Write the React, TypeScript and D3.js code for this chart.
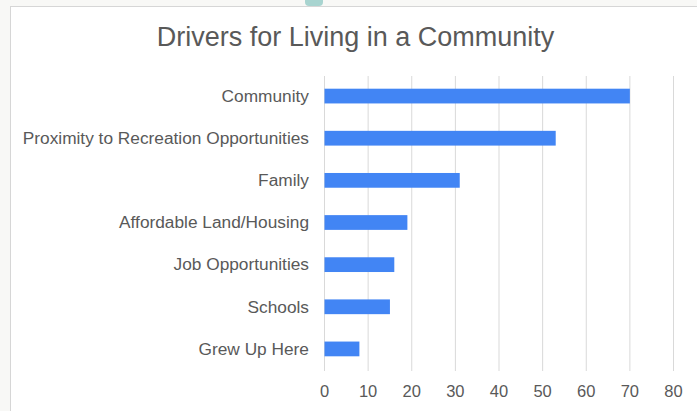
import React from "react";
import * as d3 from "d3";

const categories = [
  "Community",
  "Proximity to Recreation Opportunities",
  "Family",
  "Affordable Land/Housing",
  "Job Opportunities",
  "Schools",
  "Grew Up Here",
];
const values = [70, 53, 31, 19, 16, 15, 8];
const xTicks = [0, 10, 20, 30, 40, 50, 60, 70, 80];
const title = "Drivers for Living in a Community";

const W = 697;
const H = 411;

export default function App() {
  const x = d3.scaleLinear().domain([0, 80]).range([324.5, 673.5]);
  const y = d3.scaleBand<string>().domain(categories).range([75, 370]).paddingInner(0.65).paddingOuter(0.325);
  const font = "'Liberation Sans', Arial, sans-serif";
  return (
    <div style={{ position: "absolute", left: 0, top: 0 }}>
      <svg width={W} height={H} style={{ display: "block" }}>
        <rect x={0} y={0} width={W} height={H} fill="#f8f8f6" />
        <rect x={305} y={-3} width={18} height={9} fill="#a8d4d0" rx={4} />
        <rect x={10.5} y={6.5} width={W} height={H} fill="#ffffff" stroke="#d6d6d6" />
        <text x={355.5} y={46} textAnchor="middle" fontFamily={font} fontSize={27} fill="#595959">
          {title}
        </text>
        {xTicks.map((t) => (
          <g key={t}>
            <line x1={x(t)} x2={x(t)} y1={76} y2={371} stroke="#d9d9d9" strokeWidth={1} />
            <text x={x(t)} y={397} textAnchor="middle" fontFamily={font} fontSize={16.5} fill="#595959">
              {t}
            </text>
          </g>
        ))}
        {categories.map((c, i) => (
          <g key={c}>
            <rect
              x={x(0)}
              y={y(c)!}
              width={x(values[i]) - x(0)}
              height={y.bandwidth()}
              fill="#4285f4"
            />
            <text
              x={309}
              y={y(c)! + y.bandwidth() / 2 + 5.8}
              textAnchor="end"
              fontFamily={font}
              fontSize={17.3}
              fill="#595959"
            >
              {c}
            </text>
          </g>
        ))}
      </svg>
    </div>
  );
}
